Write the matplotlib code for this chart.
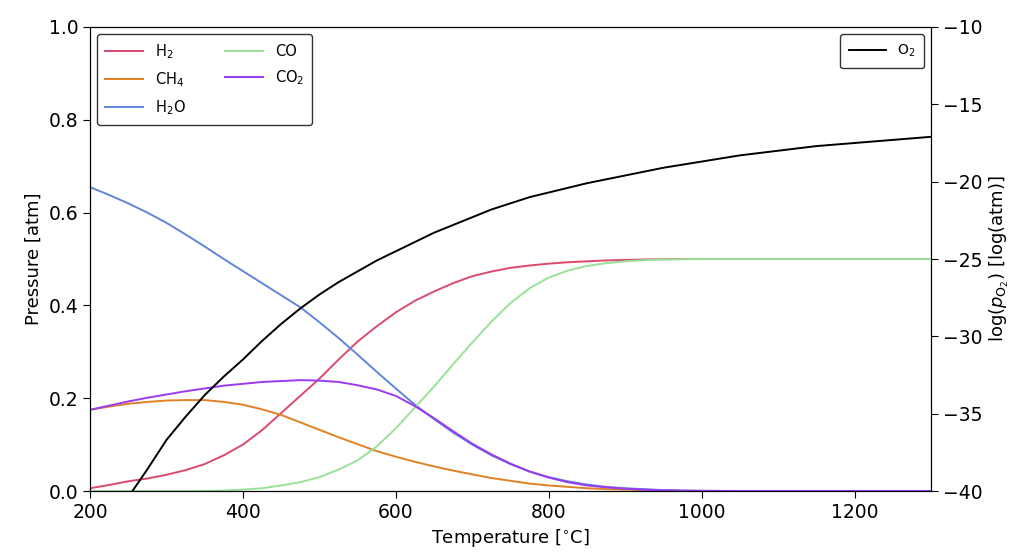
import matplotlib
matplotlib.use("Agg")
import matplotlib.pyplot as plt

temperature = [200, 225, 250, 275, 300, 325, 350, 375, 400, 425, 450, 475, 500, 525, 550,
               575, 600, 625, 650, 675, 700, 725, 750, 775, 800, 825, 850, 875, 900, 925,
               950, 975, 1000, 1050, 1100, 1150, 1200, 1250, 1300]

h2 = [0.006, 0.013, 0.021, 0.027, 0.035, 0.045, 0.058, 0.077, 0.100, 0.131, 0.168, 0.205,
      0.242, 0.283, 0.322, 0.355, 0.385, 0.410, 0.430, 0.448, 0.463, 0.473, 0.481, 0.486,
      0.490, 0.493, 0.495, 0.497, 0.498, 0.499, 0.4995, 0.500, 0.500, 0.500, 0.500, 0.500,
      0.500, 0.500, 0.500]
ch4 = [0.175, 0.182, 0.188, 0.192, 0.195, 0.196, 0.196, 0.192, 0.186, 0.176, 0.164, 0.148,
       0.132, 0.116, 0.101, 0.086, 0.074, 0.063, 0.053, 0.044, 0.036, 0.028, 0.022, 0.016,
       0.012, 0.009, 0.006, 0.004, 0.003, 0.002, 0.001, 0.0005, 0.0002, 0.0, 0.0, 0.0,
       0.0, 0.0, 0.0]
h2o = [0.655, 0.638, 0.620, 0.600, 0.578, 0.553, 0.527, 0.500, 0.474, 0.448, 0.422, 0.396,
       0.364, 0.330, 0.294, 0.257, 0.221, 0.186, 0.155, 0.126, 0.100, 0.077, 0.058, 0.042,
       0.030, 0.021, 0.014, 0.009, 0.006, 0.004, 0.002, 0.001, 0.0005, 0.0, 0.0, 0.0,
       0.0, 0.0, 0.0]
co = [0.0, 0.0, 0.0, 0.0, 0.0, 0.0, 0.0005, 0.001, 0.003, 0.006, 0.012, 0.019,
      0.030, 0.046, 0.066, 0.096, 0.135, 0.180, 0.225, 0.273, 0.320, 0.365, 0.405, 0.437,
      0.460, 0.475, 0.485, 0.491, 0.495, 0.4975, 0.499, 0.4995, 0.500, 0.500, 0.500, 0.500,
      0.500, 0.500, 0.500]
co2 = [0.175, 0.184, 0.193, 0.201, 0.208, 0.215, 0.221, 0.227, 0.231, 0.235, 0.237, 0.239,
       0.238, 0.235, 0.228, 0.219, 0.205, 0.183, 0.157, 0.129, 0.102, 0.079, 0.059, 0.042,
       0.029, 0.019, 0.012, 0.008, 0.005, 0.003, 0.0015, 0.0008, 0.0004, 0.0, 0.0, 0.0,
       0.0, 0.0, 0.0]

o2_temperature = [250, 275, 300, 325, 350, 375, 400, 425, 450, 475, 500, 525, 550, 575,
                  600, 625, 650, 675, 700, 725, 750, 775, 800, 825, 850, 875, 900, 950,
                  1000, 1050, 1100, 1150, 1200, 1250, 1300]
log_po2 = [-40.4, -38.6, -36.7, -35.2, -33.8, -32.6, -31.5, -30.3, -29.2, -28.2, -27.3,
           -26.5, -25.8, -25.1, -24.5, -23.9, -23.3, -22.8, -22.3, -21.8, -21.4, -21.0,
           -20.7, -20.4, -20.1, -19.85, -19.6, -19.1, -18.7, -18.3, -18.0, -17.7, -17.5,
           -17.3, -17.1]

species = [("H$_2$", h2, "#dc4a6e"),
           ("CH$_4$", ch4, "#e08224"),
           ("H$_2$O", h2o, "#5f85dc"),
           ("CO", co, "#98e29a"),
           ("CO$_2$", co2, "#9b3af2")]

fig = plt.figure(figsize=(10.19, 5.59), dpi=100)
ax = fig.add_axes([0.0883, 0.1216, 0.8253, 0.8301])

for name, vals, col in species:
    ax.plot(temperature, vals, color=col, lw=1.4, label=name)

ax.set_xlim(200, 1300)
ax.set_ylim(0, 1.0)
ax.set_xlabel("Temperature [$^{\\circ}$C]", fontsize=13)
ax.set_ylabel("Pressure [atm]", fontsize=13)
ax.tick_params(labelsize=13.5, length=5)
ax.legend(loc="upper left", ncol=2, fontsize=10.5, frameon=True,
          edgecolor="#333333", framealpha=1, handlelength=2.6,
          columnspacing=2.7, labelspacing=0.63, borderpad=0.55)

ax2 = ax.twinx()
ax2.plot(o2_temperature, log_po2, color="black", lw=1.4, label="O$_2$")
ax2.set_ylim(-40, -10)
ax2.set_xlim(200, 1300)
ax2.set_ylabel("log($p_{\\mathrm{O_2}}$) [log(atm)]", fontsize=13)
ax2.tick_params(labelsize=13.5, length=5)
ax2.legend(loc="upper right", fontsize=10, edgecolor="#333333", framealpha=1,
           handlelength=2.6, borderpad=0.65)

fig.savefig("out.png", dpi=100)
